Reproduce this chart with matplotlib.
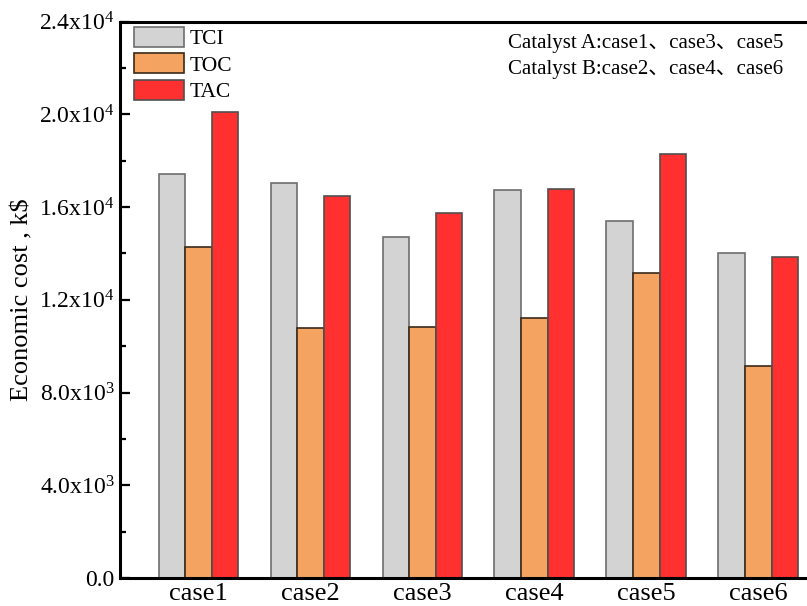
import numpy as np
import matplotlib
matplotlib.use("Agg")
import matplotlib.pyplot as plt
from matplotlib.ticker import FuncFormatter, MultipleLocator

plt.rcParams['font.family'] = ['Liberation Serif', 'Noto Sans CJK SC']
plt.rcParams['mathtext.fontset'] = 'custom'
plt.rcParams['mathtext.rm'] = 'Liberation Serif'
plt.rcParams['mathtext.it'] = 'Liberation Serif'
plt.rcParams['mathtext.bf'] = 'Liberation Serif'

cases = ['case1', 'case2', 'case3', 'case4', 'case5', 'case6']
tci = [17440, 17030, 14700, 16720, 15420, 14040]
toc = [14300, 10800, 10850, 11230, 13140, 9150]
tac = [20100, 16460, 15740, 16800, 18290, 13850]

fig = plt.figure(figsize=(8.07, 6.06), dpi=100)
ax = fig.add_axes([0.1487, 0.0462, 0.888, 0.918])

x = np.arange(1, len(cases) + 1)
w = 0.237
ax.bar(x - w, tci, w, color='#d3d3d3', edgecolor='#6e6e6e', linewidth=1.2, label='TCI')
ax.bar(x, toc, w, color='#f4a460', edgecolor='#3a2a1a', linewidth=1.2, label='TOC')
ax.bar(x + w, tac, w, color='#ff3030', edgecolor='#505050', linewidth=1.2, label='TAC')

ax.set_xlim(0.3, 6.7)
ax.set_ylim(0, 24000)
ax.set_xticks(x)
ax.set_xticklabels(cases)
ax.yaxis.set_major_locator(MultipleLocator(4000))
ax.yaxis.set_minor_locator(MultipleLocator(2000))


def sci(v, pos):
    if v <= 0:
        return '0.0'
    e = int(np.floor(np.log10(v)))
    return '%.1fx10$^{%d}$' % (v / 10 ** e, e)


ax.yaxis.set_major_formatter(FuncFormatter(sci))
ax.tick_params(axis='y', which='major', direction='in', length=7.5, width=1.6, labelsize=17, pad=4)
ax.tick_params(axis='y', which='minor', direction='in', length=4.5, width=1.6)
ax.tick_params(axis='x', length=0, labelsize=19, pad=3.5)

for s in ['left', 'bottom', 'top', 'right']:
    ax.spines[s].set_linewidth(2.2)

ax.set_ylabel('Economic cost , k$', fontsize=19, labelpad=4)

# legend sits just inside the top-left corner
ax.legend(loc='upper left', bbox_to_anchor=(0.0167, 0.9946), frameon=False, fontsize=15.5,
          handlelength=2.3, handleheight=1.05, labelspacing=0.2, handletextpad=0.3,
          borderpad=0.1, borderaxespad=0.0)

fig.text(0.6295, 0.929, 'Catalyst A:case1、case3、case5', fontsize=15, va='center')
fig.text(0.6295, 0.886, 'Catalyst B:case2、case4、case6', fontsize=15, va='center')

fig.savefig('out.png', dpi=100)
